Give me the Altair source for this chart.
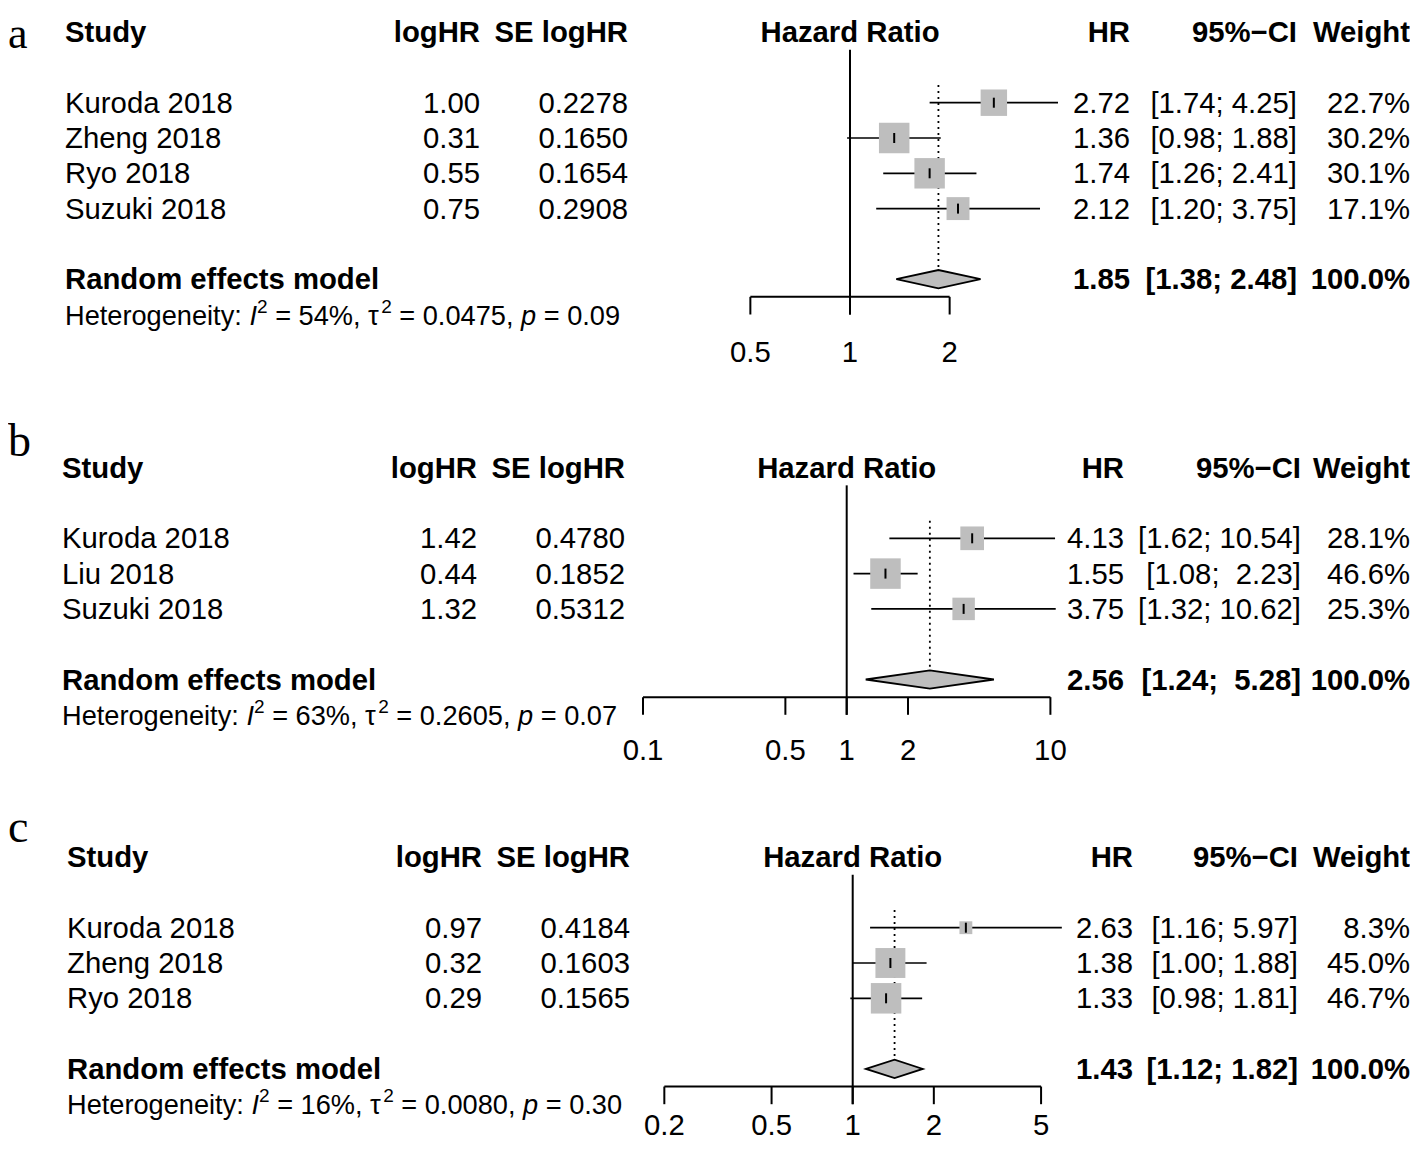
import math
import altair as alt
import pandas as pd

# ---------------- data ----------------
A_study = ["Kuroda 2018", "Zheng 2018", "Ryo 2018", "Suzuki 2018"]
A_loghr = [1.00, 0.31, 0.55, 0.75]
A_se = [0.2278, 0.1650, 0.1654, 0.2908]
A_hr = [2.72, 1.36, 1.74, 2.12]
A_lo = [1.74, 0.98, 1.26, 1.20]
A_hi = [4.25, 1.88, 2.41, 3.75]
A_w = [22.7, 30.2, 30.1, 17.1]
A_re = [1.85, 1.38, 2.48]
A_het = ["54%", "0.0475", "0.09"]
A_ticks = [0.5, 1, 2]

B_study = ["Kuroda 2018", "Liu 2018", "Suzuki 2018"]
B_loghr = [1.42, 0.44, 1.32]
B_se = [0.4780, 0.1852, 0.5312]
B_hr = [4.13, 1.55, 3.75]
B_lo = [1.62, 1.08, 1.32]
B_hi = [10.54, 2.23, 10.62]
B_w = [28.1, 46.6, 25.3]
B_re = [2.56, 1.24, 5.28]
B_het = ["63%", "0.2605", "0.07"]
B_ticks = [0.1, 0.5, 1, 2, 10]

C_study = ["Kuroda 2018", "Zheng 2018", "Ryo 2018"]
C_loghr = [0.97, 0.32, 0.29]
C_se = [0.4184, 0.1603, 0.1565]
C_hr = [2.63, 1.38, 1.33]
C_lo = [1.16, 1.00, 0.98]
C_hi = [5.97, 1.88, 1.81]
C_w = [8.3, 45.0, 46.7]
C_re = [1.43, 1.12, 1.82]
C_het = ["16%", "0.0080", "0.30"]
C_ticks = [0.2, 0.5, 1, 2, 5]

# ---------------- layout / style ----------------
FONT = "Liberation Sans, Arial, Helvetica, sans-serif"
SERIF = "Liberation Serif, Times New Roman, serif"
FS = 29.3
FS_HET = 27.2
FS_SUP = 19
ROW_PX = 35.3
W = 1402
OFF = 8
GRAY = "#BEBEBE"
NBSP = "\u00a0"

# Arial / Liberation Sans advance widths (1/1000 em)
AW = {" ": 278, ".": 278, ",": 278, "%": 889, "=": 584, ":": 278, "H": 722, "e": 556,
      "t": 278, "r": 333, "o": 556, "g": 556, "n": 556, "i": 222, "y": 500, "I": 278,
      "p": 556, "τ": 480}
for d in "0123456789":
    AW[d] = 556


def tw(s, size):
    return sum(AW.get(c, 556) for c in s) / 1000.0 * size


def panel(label, study, loghr, se, hr, lo, hi, w, re, het, ticks, g):
    n = len(study)
    top, height, y0 = g["top"], g["height"], g["y0"]
    r_top = -(y0 - top) / ROW_PX
    r_bot = r_top + height / ROW_PX
    ys = alt.Scale(domain=[r_top, r_bot], reverse=True, nice=False, zero=False)
    c1 = g["x1"] - OFF
    k = g["k"]
    xs = alt.Scale(type="log", domain=[10 ** (-c1 / k), 10 ** ((W - c1) / k)], nice=False)

    def Y(f):
        return alt.Y(f, type="quantitative", scale=ys, axis=None)

    def X(f):
        return alt.X(f, type="quantitative", scale=xs, axis=None)

    cx = {kk: v - OFF for kk, v in g["cols"].items()}

    all_hi = [f"{v:.2f}" for v in hi + [re[2]]]
    mlen = max(len(s) for s in all_hi)

    def ci_txt(a, b):
        bs = f"{b:.2f}"
        return f"[{a:.2f}; " + NBSP * (mlen - len(bs)) + bs + "]"

    df = pd.DataFrame({
        "row": list(range(n)),
        "study": study,
        "loghr": loghr,
        "se": se,
        "hr": hr,
        "lo": lo,
        "hi": hi,
        "w": w,
        "hr_t": [f"{v:.2f}" for v in hr],
        "ci_t": [ci_txt(a, b) for a, b in zip(lo, hi)],
        "w_t": [f"{v:.1f}%" for v in w],
    })

    def txt(data, field, x, align, bold=False, size=FS, fmt=None, dy=1, italic=False, font=FONT,
            row="row"):
        t = alt.Text(field, type="quantitative", format=fmt) if fmt else alt.Text(field, type="nominal")
        return alt.Chart(data).mark_text(
            align=align, baseline="middle", font=font, fontSize=size,
            fontWeight="bold" if bold else "normal",
            fontStyle="italic" if italic else "normal",
            color="black", dy=dy, clip=True,
        ).encode(x=x, y=Y(row), text=t)

    layers = []

    # reference line at HR = 1
    vline = pd.DataFrame({"v": [1], "y1": [-1.5], "y2": [n + 2]})
    layers.append(alt.Chart(vline).mark_rule(color="black", strokeWidth=2).encode(
        x=X("v"), y=Y("y1"), y2="y2"))
    # dotted line at the pooled estimate
    dline = pd.DataFrame({"v": [re[0]], "y1": [-0.5], "y2": [n + 1 - 0.26]})
    layers.append(alt.Chart(dline).mark_rule(color="black", strokeWidth=1.8, strokeDash=[2, 4]).encode(
        x=X("v"), y=Y("y1"), y2="y2"))
    # CI lines
    layers.append(alt.Chart(df).mark_rule(color="black", strokeWidth=1.7).encode(
        x=X("lo"), x2="hi", y=Y("row")))
    # squares (area proportional to weight)
    layers.append(alt.Chart(df).mark_square(filled=True, color=GRAY, opacity=1, strokeWidth=0).encode(
        x=X("hr"), y=Y("row"),
        size=alt.Size("w", type="quantitative",
                      scale=alt.Scale(type="linear", domain=[0, max(w)], range=[0, 930], zero=True),
                      legend=None)))
    # point-estimate tick inside square
    layers.append(alt.Chart(df).mark_point(shape="M0,-1L0,1", size=100, filled=False, stroke="black",
                                           strokeWidth=2, opacity=1).encode(x=X("hr"), y=Y("row")))
    # diamond for the random effects model
    dia = pd.DataFrame({"x": [re[1], re[0], re[2]],
                        "yt": [n + 1, n + 1 - 0.26, n + 1],
                        "yb": [n + 1, n + 1 + 0.26, n + 1]})
    layers.append(alt.Chart(dia).mark_area(fill=GRAY, stroke="black", strokeWidth=1.8, opacity=1).encode(
        x=X("x"), y=Y("yt"), y2="yb"))
    # x axis
    ax = pd.DataFrame({"a": [min(ticks)], "b": [max(ticks)], "r": [n + 1.5]})
    layers.append(alt.Chart(ax).mark_rule(color="black", strokeWidth=2).encode(
        x=X("a"), x2="b", y=Y("r")))
    tk = pd.DataFrame({"t": ticks, "r1": [n + 1.5] * len(ticks), "r2": [n + 2] * len(ticks),
                       "rl": [n + g["lab_row"]] * len(ticks)})
    layers.append(alt.Chart(tk).mark_rule(color="black", strokeWidth=2).encode(
        x=X("t"), y=Y("r1"), y2="r2"))
    layers.append(txt(tk, "t", X("t"), "center", fmt="~g", row="rl"))

    # header row
    def one(row, t):
        return pd.DataFrame({"row": [row], "t": [t]})

    layers.append(txt(one(-2, "Study"), "t", alt.value(cx["study"]), "left", bold=True))
    layers.append(txt(one(-2, "logHR"), "t", alt.value(cx["loghr"]), "right", bold=True))
    layers.append(txt(one(-2, "SE logHR"), "t", alt.value(cx["se"]), "right", bold=True))
    hz = pd.DataFrame({"row": [-2], "v": [1], "t": ["Hazard Ratio"]})
    layers.append(txt(hz, "t", X("v"), "center", bold=True))
    layers.append(txt(one(-2, "HR"), "t", alt.value(cx["hr"]), "right", bold=True))
    layers.append(txt(one(-2, "95%\u2212CI"), "t", alt.value(cx["ci"]), "right", bold=True))
    layers.append(txt(one(-2, "Weight"), "t", alt.value(cx["w"]), "right", bold=True))

    # study rows
    layers.append(txt(df, "study", alt.value(cx["study"]), "left"))
    layers.append(txt(df, "loghr", alt.value(cx["loghr"]), "right", fmt=".2f"))
    layers.append(txt(df, "se", alt.value(cx["se"]), "right", fmt=".4f"))
    layers.append(txt(df, "hr_t", alt.value(cx["hr"]), "right"))
    layers.append(txt(df, "ci_t", alt.value(cx["ci"]), "right"))
    layers.append(txt(df, "w_t", alt.value(cx["w"]), "right"))

    # random effects row
    rr = n + 1
    layers.append(txt(one(rr, "Random effects model"), "t", alt.value(cx["study"]), "left", bold=True))
    layers.append(txt(one(rr, f"{re[0]:.2f}"), "t", alt.value(cx["hr"]), "right", bold=True))
    layers.append(txt(one(rr, ci_txt(re[1], re[2])), "t", alt.value(cx["ci"]), "right", bold=True))
    layers.append(txt(one(rr, "100.0%"), "t", alt.value(cx["w"]), "right", bold=True))

    # heterogeneity line (segments: normal / italic / superscript)
    hr_row = n + 2
    segs = [("Heterogeneity: ", "n"), ("I", "i"), ("2", "s"), (f" = {het[0]}, τ", "n"), ("2", "s"),
            (f" = {het[1]}, ", "n"), ("p", "i"), (f" = {het[2]}", "n")]
    xpos = cx["study"]
    for s, kind in segs:
        size = FS_SUP if kind == "s" else FS_HET
        lead = len(s) - len(s.lstrip(" "))
        x_txt = xpos + tw(" " * lead, size)
        shown = s.strip(" ")
        layers.append(txt(one(hr_row, shown), "t", alt.value(x_txt), "left", size=size,
                          italic=(kind == "i"), dy=(-8 if kind == "s" else 2)))
        xpos += tw(s, size)

    # panel letter
    lab = pd.DataFrame({"row": [r_top], "t": [label]})
    layers.append(alt.Chart(lab).mark_text(
        align="left", baseline="alphabetic", font=SERIF, fontSize=g["lab_fs"], color="black", clip=True,
        dy=g["lab_dy"]).encode(x=alt.value(0), y=Y("row"), text="t:N"))

    return alt.layer(*layers).properties(width=W, height=height)


GA = dict(top=8, height=392, y0=102.7, x1=850.0, k=331.0, lab_dy=40, lab_fs=44, lab_row=3.05,
          cols=dict(study=65, loghr=480, se=628, hr=1130, ci=1297, w=1410))
GB = dict(top=400, height=390, y0=538.3, x1=846.7, k=203.7, lab_dy=56, lab_fs=46, lab_row=3.0,
          cols=dict(study=62, loghr=477, se=625, hr=1124, ci=1301, w=1410))
GC = dict(top=790, height=353, y0=927.7, x1=852.7, k=269.5, lab_dy=52, lab_fs=46, lab_row=2.60,
          cols=dict(study=67, loghr=482, se=630, hr=1133, ci=1298, w=1410))

pa = panel("a", A_study, A_loghr, A_se, A_hr, A_lo, A_hi, A_w, A_re, A_het, A_ticks, GA)
pb = panel("b", B_study, B_loghr, B_se, B_hr, B_lo, B_hi, B_w, B_re, B_het, B_ticks, GB)
pc = panel("c", C_study, C_loghr, C_se, C_hr, C_lo, C_hi, C_w, C_re, C_het, C_ticks, GC)

chart = alt.vconcat(pa, pb, pc, spacing=0).resolve_scale(size="independent").properties(
    padding=0, background="white"
).configure_view(stroke=None)

chart.save("out.html", embed_options={"renderer": "svg", "actions": False})
